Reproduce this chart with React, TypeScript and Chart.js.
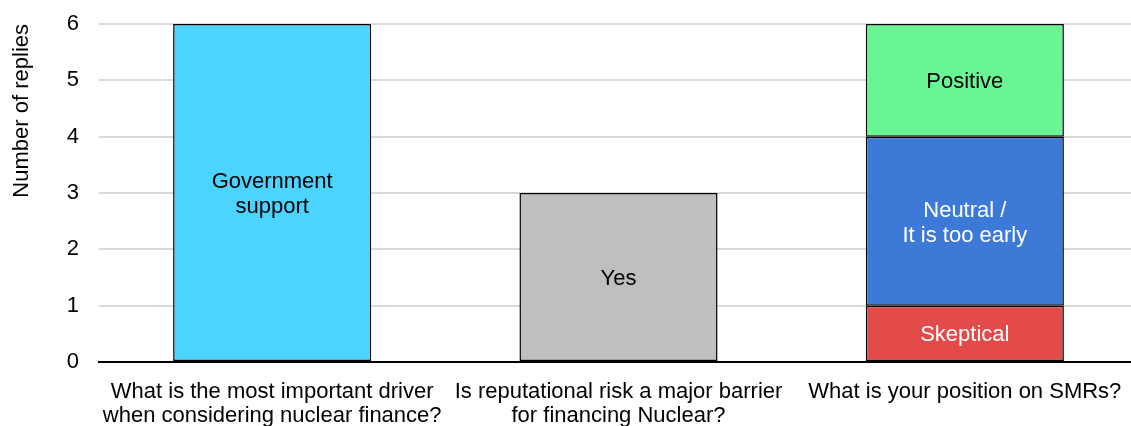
import React, { useEffect, useRef } from "react";
import { Chart, registerables } from "chart.js";

Chart.register(...registerables);

const categories: string[][] = [
  ["What is the most important driver", "when considering nuclear finance?"],
  ["Is reputational risk a major barrier", "for financing Nuclear?"],
  ["What is your position on SMRs?"],
];

const governmentSupport = [6, null, null];
const yesValues = [null, 3, null];
const skepticalValues = [null, null, 1];
const neutralValues = [null, null, 3];
const positiveValues = [null, null, 2];

const yTicks = [0, 1, 2, 3, 4, 5, 6];

const FONT = "'Liberation Sans', Arial, sans-serif";

const barLabelPlugin = {
  id: "barLabels",
  afterDatasetsDraw(chart: any) {
    const ctx = chart.ctx;
    ctx.save();
    ctx.font = `22px ${FONT}`;
    ctx.textAlign = "center";
    ctx.textBaseline = "middle";
    chart.data.datasets.forEach((ds: any, di: number) => {
      const meta = chart.getDatasetMeta(di);
      meta.data.forEach((el: any, i: number) => {
        const v = ds.data[i];
        if (v == null) return;
        const lines: string[] = ds.innerLabel;
        const cy = (el.y + el.base) / 2 + 2;
        const lh = 25;
        ctx.fillStyle = ds.innerColor;
        lines.forEach((ln, k) => {
          ctx.fillText(ln, el.x, cy + (k - (lines.length - 1) / 2) * lh);
        });
      });
    });
    ctx.restore();
  },
};

export default function App() {
  const ref = useRef<HTMLCanvasElement>(null);
  useEffect(() => {
    if (!ref.current) return;
    const common = { borderColor: "#000", borderWidth: 1.5, borderSkipped: false, categoryPercentage: 1, barPercentage: 0.572 };
    const chart = new Chart(ref.current, {
      type: "bar",
      data: {
        labels: categories as any,
        datasets: [
          { label: "Government support", data: governmentSupport, backgroundColor: "#4AD4FF", innerLabel: ["Government", "support"], innerColor: "#000", ...common } as any,
          { label: "Yes", data: yesValues, backgroundColor: "#BFBFBF", innerLabel: ["Yes"], innerColor: "#000", ...common } as any,
          { label: "Skeptical", data: skepticalValues, backgroundColor: "#E34B4A", innerLabel: ["Skeptical"], innerColor: "#fff", ...common } as any,
          { label: "Neutral / It is too early", data: neutralValues, backgroundColor: "#3D79D6", innerLabel: ["Neutral /", "It is too early"], innerColor: "#fff", ...common } as any,
          { label: "Positive", data: positiveValues, backgroundColor: "#6AF595", innerLabel: ["Positive"], innerColor: "#000", ...common } as any,
        ],
      },
      options: {
        responsive: false,
        animation: false,
        layout: { padding: { top: 24, right: 0, bottom: 0, left: 0 } },
        plugins: { legend: { display: false }, tooltip: { enabled: false } },
        scales: {
          x: {
            stacked: true,
            grid: { display: false, drawTicks: false },
            border: { display: true, color: "#000", width: 2 },
            ticks: { color: "#000", font: { family: FONT, size: 22, lineHeight: 1.1 }, padding: 18, maxRotation: 0, autoSkip: false },
            afterFit(scale: any) { scale.height = 64; scale.paddingLeft = 0; scale.paddingRight = 0; },
          },
          y: {
            stacked: true,
            min: 0,
            max: 6,
            afterBuildTicks(scale: any) { scale.ticks = yTicks.map((v) => ({ value: v })); },
            grid: { color: "#D9D9D9", lineWidth: 2, drawTicks: false },
            border: { display: false },
            ticks: { color: "#000", font: { family: FONT, size: 22 }, padding: 20 },
            title: { display: true, text: "Number of replies", align: "end", color: "#000", font: { family: FONT, size: 22 }, padding: { top: 9, bottom: 0 } },
            afterFit(scale: any) { scale.width = 99; scale.paddingTop = 0; scale.paddingBottom = 0; },
          },
        },
      },
      plugins: [barLabelPlugin],
    });
    return () => chart.destroy();
  }, []);
  return (
    <div style={{ position: "fixed", left: 0, top: 0, width: 1131, height: 426, overflow: "hidden", background: "#fff" }}>
      <canvas ref={ref} width={1138} height={426} style={{ display: "block" }} />
    </div>
  );
}
